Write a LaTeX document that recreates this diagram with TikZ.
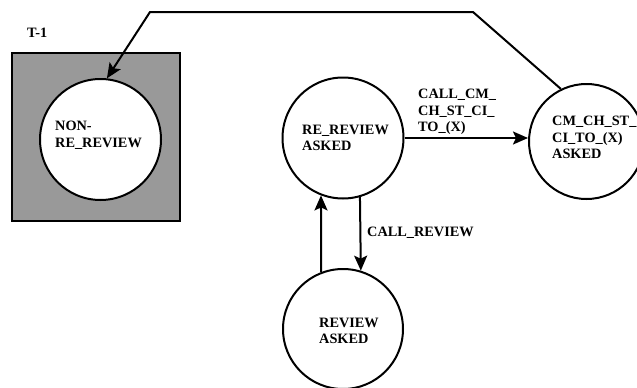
\documentclass[tikz,border=0pt]{standalone}
\usepackage{fontspec}
\setmainfont{Liberation Serif}
\usetikzlibrary{arrows.meta}
\begin{document}
\begin{tikzpicture}[x=1pt,y=-1pt,
  state/.style={circle,draw=black,line width=2pt,fill=white,inner sep=0pt},
  txt/.style={inner sep=0pt,anchor=west,align=left,font=\bfseries\fontsize{14.3}{16.6}\selectfont},
  conn/.style={line width=2pt},
  arr/.style={conn,-{Stealth[length=15pt,width=13pt,inset=3pt]}}]
\useasboundingbox (0,0) rectangle (637,388);
\clip (0,0) rectangle (637,388);
\node[draw=black,line width=1.4pt,fill=black!40,minimum width=168pt,minimum height=168pt,inner sep=0pt] (box) at (96,137) {};
\node[txt] (t1) at (27,33) {T-1};
\node[state,minimum size=121pt] (n1) at (100.5,139.5) {};
\node[state,minimum size=121pt] (n2) at (343,138) {};
\node[state,minimum size=115pt] (n3) at (586.5,141.5) {};
\node[state,minimum size=120pt] (n4) at (343,329) {};
\node[txt] (l1) at (55,135) {NON-\\RE\_REVIEW};
\node[txt] (l2) at (302,138) {RE\_REVIEW\\ASKED};
\node[txt] (l3) at (552,137.5) {CM\_CH\_ST\_\\CI\_TO\_(X)\\ASKED};
\node[txt] (l4) at (319,331) {REVIEW\\ASKED};
\node[txt] (e1) at (418,112) {CALL\_CM\_\\CH\_ST\_CI\_\\TO\_(X)};
\node[txt] (e2) at (367,233) {CALL\_REVIEW};
\coordinate (c1) at (473,12);
\coordinate (c2) at (150,12);
\draw[arr] (n2.east) -- (n3.west |- n2.east);
\draw[arr] (n4.111) -- (n2.249);
\draw[arr] (n2.286.5) -- (n4.73.5);
\draw[arr] (n3.116.8) -- (c1) -- (c2) -- (n1.84);
\end{tikzpicture}
\end{document}
